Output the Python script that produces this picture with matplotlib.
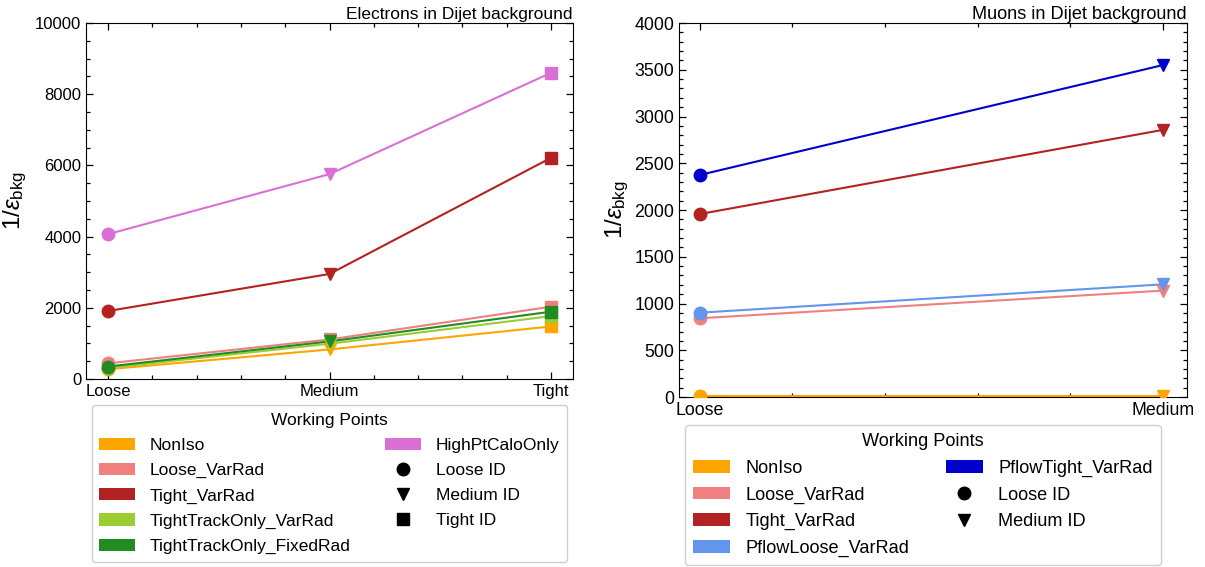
import matplotlib
matplotlib.use("Agg")
import matplotlib.pyplot as plt
from matplotlib.patches import Patch
from matplotlib.lines import Line2D
from matplotlib.ticker import MultipleLocator

plt.rcParams["font.family"] = ["Liberation Sans", "DejaVu Sans"]
plt.rcParams["mathtext.fontset"] = "custom"
plt.rcParams["mathtext.rm"] = "Liberation Sans"
plt.rcParams["mathtext.it"] = "Liberation Sans:italic"

# ---- data ---------------------------------------------------------------
ele_ids = ["Loose", "Medium", "Tight"]
ele_names = ["NonIso", "Loose_VarRad", "Tight_VarRad",
             "TightTrackOnly_VarRad", "TightTrackOnly_FixedRad", "HighPtCaloOnly"]
ele_colors = ["orange", "lightcoral", "firebrick",
              "yellowgreen", "forestgreen", "orchid"]
ele_nonIso = [275, 830, 1475]
ele_loose_varrad = [440, 1110, 2030]
ele_tight_varrad = [1910, 2950, 6210]
ele_tto_varrad = [310, 990, 1765]
ele_tto_fixedrad = [350, 1055, 1890]
ele_highpt_calo = [4070, 5755, 8600]

mu_ids = ["Loose", "Medium"]
mu_names = ["NonIso", "Loose_VarRad", "Tight_VarRad",
            "PflowLoose_VarRad", "PflowTight_VarRad"]
mu_colors = ["orange", "lightcoral", "firebrick",
             "cornflowerblue", "mediumblue"]
mu_nonIso = [8, 8]
mu_loose_varrad = [842, 1138]
mu_tight_varrad = [1957, 2857]
mu_pflow_loose = [902, 1205]
mu_pflow_tight = [2375, 3550]

id_markers = ["o", "v", "s"]
id_labels = ["Loose ID", "Medium ID", "Tight ID"]

ele_values = [ele_nonIso, ele_loose_varrad, ele_tight_varrad,
              ele_tto_varrad, ele_tto_fixedrad, ele_highpt_calo]
mu_values = [mu_nonIso, mu_loose_varrad, mu_tight_varrad,
             mu_pflow_loose, mu_pflow_tight]

fig = plt.figure(figsize=(12.05, 5.67), dpi=100)
ax_e = fig.add_axes([0.0714, 0.3316, 0.4041, 0.6278])
ax_m = fig.add_axes([0.5635, 0.2998, 0.4215, 0.6596])


def draw(ax, ids, names, colors, values, fs, lab_fs, lab_pad):
    x = list(range(len(ids)))
    for name, col, vals in zip(names, colors, values):
        ax.plot(x, vals, color=col, lw=1.5, zorder=2)
        for xi, v, mk in zip(x, vals, id_markers):
            ax.plot([xi], [v], marker=mk, color=col, ms=9 if mk != "s" else 8,
                    ls="none", zorder=3)
    ax.set_xticks(x)
    ax.set_xticklabels(ids)
    ax.xaxis.set_minor_locator(MultipleLocator(0.2))
    ax.tick_params(which="both", direction="in", top=True, right=True,
                   labelsize=fs)
    ax.tick_params(which="major", length=5, width=0.9)
    ax.tick_params(which="minor", length=2.8, width=0.9)
    ax.set_ylabel(r"$1/\epsilon_{\rm bkg}$", fontsize=lab_fs, labelpad=lab_pad)

    handles = [Patch(facecolor=c, edgecolor="none") for c in colors]
    labels = list(names)
    for mk, lab in zip(id_markers[:len(ids)], id_labels[:len(ids)]):
        handles.append(Line2D([], [], marker=mk, color="black", ls="none",
                              ms=9 if mk != "s" else 8))
        labels.append(lab)
    return handles, labels


def legend(handles, labels, anchor, fs, spacing):
    leg = fig.legend(handles, labels, loc="upper center", bbox_to_anchor=anchor,
                     ncol=2, title="Working Points", fontsize=fs,
                     title_fontsize=fs, handlelength=2.05, handleheight=0.7,
                     handletextpad=0.85, columnspacing=2.0, labelspacing=spacing,
                     fancybox=True, framealpha=1.0, borderpad=0.45,
                     borderaxespad=0)
    leg.get_frame().set_edgecolor("#d0d0d0")
    return leg


# Electrons
h, l = draw(ax_e, ele_ids, ele_names, ele_colors, ele_values, 12, 17.4, 4)
ax_e.set_xlim(-0.1, 2.1)
ax_e.set_ylim(0, 10000)
ax_e.yaxis.set_major_locator(MultipleLocator(2000))
ax_e.yaxis.set_minor_locator(MultipleLocator(500))
ax_e.set_title("Electrons in Dijet background", loc="right", fontsize=12.5,
               pad=3)
legend(h, l, (0.2734, 0.2857), 12.5, 0.575)

# Muons
h, l = draw(ax_m, mu_ids, mu_names, mu_colors, mu_values, 12.8, 17.3, 2.5)
ax_m.set_xlim(-0.045, 1.052)
ax_m.set_ylim(0, 4000)
ax_m.yaxis.set_major_locator(MultipleLocator(500))
ax_m.yaxis.set_minor_locator(MultipleLocator(100))
ax_m.set_title("Muons in Dijet background", loc="right", fontsize=13.1, pad=3)
legend(h, l, (0.766, 0.2504), 13.05, 0.53)

fig.savefig("out.png", dpi=100)
